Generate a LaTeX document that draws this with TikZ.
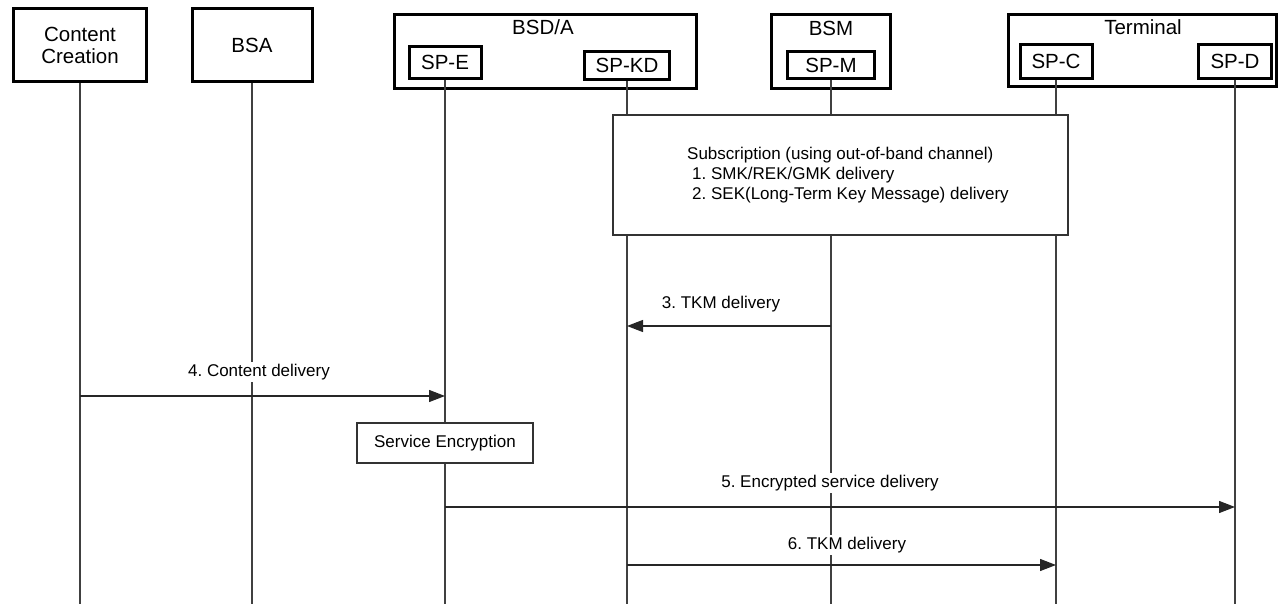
\documentclass[tikz,border=0pt]{standalone}
\usepackage{fontspec}
\setmainfont{Liberation Sans}
\usetikzlibrary{arrows.meta}
\frenchspacing
\begin{document}
\begin{tikzpicture}[x=1pt,y=-1pt,
  bigbox/.style={draw=black,line width=3pt,fill=white,inner sep=0pt,font=\fontsize{20.5}{24}\selectfont,align=center},
  spbox/.style={draw=black,line width=3pt,fill=white,inner sep=0pt,font=\fontsize{20.5}{24}\selectfont},
  title/.style={inner sep=0pt,font=\fontsize{20.5}{24}\selectfont},
  life/.style={draw=black!75,line width=1.3pt},
  thinbox/.style={draw=black!80,line width=1.2pt,fill=white,inner sep=0pt},
  msg/.style={draw=black!85,line width=1.3pt,-{Triangle[length=16pt,width=12pt]}},
  lbl/.style={fill=white,inner sep=2pt,font=\fontsize{17}{20}\selectfont}]
\useasboundingbox (0,0) rectangle (1283,604);
% top boxes
\node[bigbox,minimum width=133,minimum height=73] (cc) at (80,45.5) {Content\\[-2pt]Creation};
\node[bigbox,minimum width=120,minimum height=73] (bsa) at (252,45.5) {BSA};
\node[bigbox,minimum width=302,minimum height=74] (bsda) at (545.5,51.5) {};
\node[title] (bsdat) at (543,27) {BSD/A};
\node[spbox,minimum width=72,minimum height=32] (spe) at (445,62.5) {SP-E};
\node[spbox,minimum width=85,minimum height=28] (spkd) at (627,65.5) {SP-KD};
\node[bigbox,minimum width=119,minimum height=74] (bsm) at (831,51.5) {};
\node[title] (bsmt) at (831,28) {BSM};
\node[spbox,minimum width=87,minimum height=27] (spm) at (831,65) {SP-M};
\node[bigbox,minimum width=268,minimum height=72] (term) at (1142.5,50.5) {};
\node[title] (termt) at (1143,27) {Terminal};
\node[spbox,minimum width=72,minimum height=34] (spc) at (1056,61.5) {SP-C};
\node[spbox,minimum width=73,minimum height=34] (spd) at (1235,61.5) {SP-D};
% lifeline ends
\coordinate (ccb) at (80,604);
\coordinate (bsab) at (252,604);
\coordinate (speb) at (445,604);
\coordinate (spkdb) at (627,604);
\coordinate (spmb) at (831,604);
\coordinate (spcb) at (1056,604);
\coordinate (spdb) at (1235,604);
\draw[life] (cc.south) -- (ccb);
\draw[life] (bsa.south) -- (bsab);
\draw[life] (spe.south) -- (speb);
\draw[life] (spkd.south) -- (spkdb);
\draw[life] (spm.south) -- (spmb);
\draw[life] (spc.south) -- (spcb);
\draw[life] (spd.south) -- (spdb);
% subscription box
\node[thinbox,minimum width=455,minimum height=120] (sub) at (840.5,175) {};
\node[lbl,anchor=west,align=left,inner sep=0pt] (subt) at (687,175)
  {Subscription (using out-of-band channel)\\\hspace*{5pt}1. SMK/REK/GMK delivery\\\hspace*{5pt}2. SEK(Long-Term Key Message) delivery};
% message 3
\coordinate (m3a) at (831,326);
\coordinate (m3b) at (627,326);
\draw[msg] (m3a) -- (m3b);
\node[lbl] (l3) at (721,304) {3. TKM delivery};
% message 4
\coordinate (m4a) at (80,396);
\coordinate (m4b) at (445,396);
\draw[msg] (m4a) -- (m4b);
\node[lbl] (l4) at (259,372) {4. Content delivery};
% service encryption
\node[thinbox,minimum width=176,minimum height=40,font=\fontsize{17}{20}\selectfont] (se) at (445,443) {Service Encryption};
% message 5
\coordinate (m5a) at (445,507);
\coordinate (m5b) at (1235,507);
\draw[msg] (m5a) -- (m5b);
\node[lbl] (l5) at (830,483) {5. Encrypted service delivery};
% message 6
\coordinate (m6a) at (627,565);
\coordinate (m6b) at (1056,565);
\draw[msg] (m6a) -- (m6b);
\node[lbl] (l6) at (847,545) {6. TKM delivery};
\end{tikzpicture}
\end{document}
